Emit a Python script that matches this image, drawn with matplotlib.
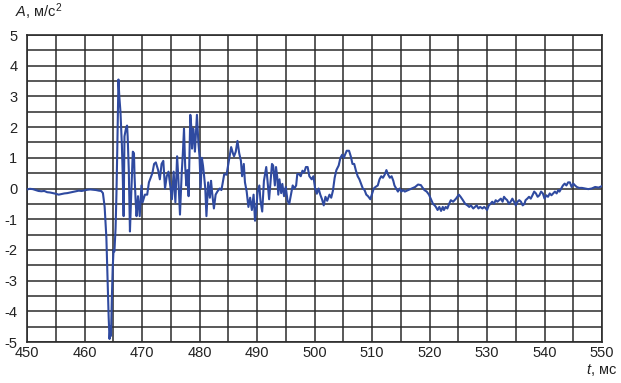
import matplotlib
matplotlib.use("Agg")
import matplotlib.pyplot as plt
from matplotlib.ticker import MultipleLocator

plt.rcParams['font.family'] = ['Liberation Sans', 'DejaVu Sans']
plt.rcParams['axes.unicode_minus'] = False
plt.rcParams['mathtext.fontset'] = 'custom'
plt.rcParams['mathtext.rm'] = 'Liberation Sans'
plt.rcParams['mathtext.it'] = 'Liberation Sans:italic'

t_ms = [450.0, 450.5, 451.0, 451.5, 452.0, 452.5, 453.0, 453.5, 454.0, 454.5,
        455.0, 455.5, 456.0, 456.5, 457.0, 457.5, 458.0, 458.5, 459.0, 459.5,
        460.0, 460.5, 461.0, 461.5, 462.0, 462.5, 462.9, 463.2, 463.5, 463.8,
        464.0, 464.2, 464.35, 464.5, 464.6, 464.75, 464.9, 465.05, 465.2, 465.4,
        465.55, 465.7, 465.8, 465.9, 466.05, 466.25, 466.5, 466.65, 466.8, 466.95,
        467.25, 467.4, 467.5, 467.7, 467.9, 468.1, 468.4, 468.6, 468.7, 468.9,
        469.05, 469.3, 469.6, 469.9, 470.1, 470.5, 470.9, 471.2, 471.5, 471.8,
        472.1, 472.4, 472.8, 473.1, 473.4, 473.7, 474.0, 474.3, 474.6, 474.9,
        475.2, 475.5, 475.8, 476.1, 476.3, 476.6, 476.9, 477.1, 477.3, 477.5,
        477.7, 477.9, 478.1, 478.4, 478.55, 478.7, 478.9, 479.05, 479.2, 479.4,
        479.55, 479.8, 480.0, 480.2, 480.4, 480.6, 480.8, 481.0, 481.2, 481.5,
        481.8, 482.0, 482.2, 482.5, 482.8, 483.1, 483.5, 483.8, 484.0, 484.3,
        484.7, 485.1, 485.5, 485.8, 486.0, 486.3, 486.6, 486.9, 487.2, 487.4,
        487.7, 487.9, 488.2, 488.5, 488.8, 489.1, 489.4, 489.65, 489.9, 490.1,
        490.4, 490.6, 490.9, 491.2, 491.6, 491.8, 492.1, 492.3, 492.6, 492.8,
        493.1, 493.3, 493.5, 493.7, 493.9, 494.2, 494.4, 494.7, 495.0, 495.3,
        495.6, 495.9, 496.2, 496.5, 496.8, 497.0, 497.3, 497.6, 497.9, 498.2,
        498.5, 498.8, 499.1, 499.5, 499.8, 500.1, 500.4, 500.7, 501.0, 501.3,
        501.6, 501.9, 502.2, 502.6, 502.9, 503.2, 503.5, 503.8, 504.2, 504.5,
        504.8, 505.1, 505.3, 505.6, 506.0, 506.3, 506.6, 506.9, 507.2, 507.5,
        507.8, 508.1, 508.4, 508.7, 509.0, 509.3, 509.7, 510.0, 510.3, 510.6,
        511.0, 511.3, 511.6, 511.9, 512.2, 512.5, 512.8, 513.1, 513.4, 513.7,
        513.9, 514.2, 514.5, 514.8, 515.1, 515.4, 515.7, 516.3, 516.9, 517.5,
        518.0, 518.5, 518.7, 519.1, 519.5, 519.9, 520.2, 520.6, 520.9, 521.1,
        521.4, 521.7, 522.0, 522.3, 522.5, 522.8, 523.1, 523.4, 523.7, 524.1,
        524.6, 525.1, 525.4, 525.8, 526.2, 526.6, 526.9, 527.2, 527.6, 527.9,
        528.2, 528.5, 528.8, 529.2, 529.5, 529.8, 530.0, 530.3, 530.6, 530.9,
        531.2, 531.5, 531.8, 532.1, 532.4, 532.7, 532.95, 533.2, 533.5, 533.8,
        534.1, 534.4, 534.7, 535.0, 535.3, 535.6, 535.9, 536.2, 536.5, 536.7,
        537.0, 537.3, 537.6, 537.9, 538.2, 538.5, 538.8, 539.1, 539.4, 539.7,
        540.0, 540.3, 540.6, 540.9, 541.2, 541.5, 541.8, 542.1, 542.4, 542.6,
        542.9, 543.2, 543.5, 543.8, 544.1, 544.4, 544.7, 545.0, 545.3, 545.6,
        546.0, 546.5, 547.1, 547.6, 548.2, 548.8, 549.4, 550.0]

accel = [-0.03, -0.01, -0.02, -0.05, -0.08, -0.09, -0.08, -0.12, -0.13, -0.15,
         -0.17, -0.2, -0.18, -0.16, -0.15, -0.13, -0.11, -0.09, -0.07, -0.08,
         -0.06, -0.04, -0.03, -0.04, -0.05, -0.07, -0.08, -0.15, -0.6, -1.6,
         -2.9, -4.2, -4.9, -4.5, -4.8, -3.6, -2.6, -2.0, -2.05, -1.3,
         -0.2, 1.3, 2.5, 3.55, 3.0, 2.5, 1.4, 0.4, -0.9, 1.7,
         2.0, 2.05, 1.7, 0.6, -1.4, -0.3, 1.2, 1.15, 0.4, -0.45,
         -0.9, -0.25, -0.9, 0.1, -0.45, -0.2, -0.2, 0.2, 0.35, 0.5,
         0.8, 0.85, 0.6, 0.3, 0.8, 0.9, 0.0, 0.4, 0.55, 0.1,
         -0.35, 0.55, -0.45, 1.05, 0.4, -0.85, 0.5, 1.15, 1.95, 0.75,
         0.1, 0.6, -0.25, 2.4, 2.05, 1.3, 1.95, 1.7, 1.2, 1.9,
         2.4, 1.5, 1.05, 0.0, 1.0, 0.75, 0.4, 0.0, -0.9, 0.2,
         -0.3, 0.25, -0.15, -0.65, -0.2, -0.1, 0.0, -0.05, 0.15, 0.47,
         0.45, 0.9, 1.35, 1.15, 1.05, 1.2, 1.55, 1.15, 0.9, 0.4,
         0.8, 0.2, -0.1, -0.6, -0.3, -0.7, -0.2, -1.05, -0.6, -0.1,
         0.1, -0.4, -0.75, 0.25, 0.7, 0.3, -0.35, 0.1, 0.8, 0.75,
         0.1, 0.7, 0.4, -0.2, 0.3, -0.15, 0.15, -0.25, 0.05, -0.4,
         -0.5, -0.2, 0.1, 0.0, 0.1, 0.47, 0.47, 0.4, 0.58, 0.52,
         0.7, 0.7, 0.4, 0.3, 0.4, 0.0, -0.17, 0.0, -0.2, -0.35,
         -0.55, -0.27, -0.4, -0.2, -0.3, -0.07, 0.35, 0.6, 0.75, 1.0,
         1.1, 1.0, 1.1, 1.23, 1.23, 1.05, 0.8, 0.8, 0.58, 0.4,
         0.3, 0.15, 0.0, -0.05, -0.2, -0.25, -0.35, -0.17, 0.0, 0.05,
         0.1, 0.3, 0.4, 0.35, 0.45, 0.6, 0.45, 0.35, 0.4, 0.25,
         0.1, 0.0, -0.1, 0.0, -0.1, -0.05, -0.1, -0.05, 0.0, 0.05,
         0.13, 0.11, 0.05, -0.05, -0.1, -0.2, -0.33, -0.5, -0.55, -0.6,
         -0.7, -0.6, -0.73, -0.6, -0.7, -0.6, -0.65, -0.5, -0.38, -0.43,
         -0.33, -0.2, -0.27, -0.38, -0.5, -0.55, -0.6, -0.55, -0.65, -0.6,
         -0.55, -0.65, -0.6, -0.65, -0.6, -0.65, -0.7, -0.55, -0.5, -0.43,
         -0.5, -0.38, -0.43, -0.38, -0.33, -0.43, -0.27, -0.33, -0.38, -0.5,
         -0.43, -0.33, -0.43, -0.55, -0.43, -0.38, -0.43, -0.55, -0.5, -0.38,
         -0.33, -0.27, -0.33, -0.22, -0.1, -0.16, -0.27, -0.22, -0.1, -0.16,
         -0.33, -0.22, -0.27, -0.16, -0.22, -0.16, -0.1, -0.16, -0.05, -0.1,
         0.0, 0.1, 0.16, 0.1, 0.2, 0.2, 0.05, 0.16, 0.1, 0.05,
         0.02, 0.02, 0.0, -0.02, 0.0, 0.05, 0.03, 0.08]

x_ticks = [450, 460, 470, 480, 490, 500, 510, 520, 530, 540, 550]
y_ticks = [-5, -4, -3, -2, -1, 0, 1, 2, 3, 4, 5]

fig = plt.figure(figsize=(6.21, 3.83), dpi=100)
ax = fig.add_axes([0.0435, 0.107, 0.926, 0.8016])

grid_color = '#2b2b2b'
ax.plot(t_ms, accel, color='#2f4aa0', lw=1.5, zorder=3)

ax.set_xlim(450, 550)
ax.set_ylim(-5, 5)
ax.set_xticks(x_ticks)
ax.set_yticks(y_ticks)
ax.xaxis.set_minor_locator(MultipleLocator(5))
ax.yaxis.set_minor_locator(MultipleLocator(0.5))
ax.grid(which='both', color=grid_color, lw=1.1)
ax.set_axisbelow(True)
for s in ax.spines.values():
    s.set_color(grid_color)
    s.set_linewidth(1.2)
ax.tick_params(which='both', length=0)
ax.tick_params(axis='y', pad=7, labelsize=10.5, colors='#222222')
ax.tick_params(axis='x', pad=3, labelsize=10.5, colors='#222222')

fig.text(15 / 621, 1 - 12 / 383, r'$\mathit{A}$, м/с$^2$', fontsize=10.5,
         ha='left', va='center', color='#222222')
fig.text(617 / 621, 1 - 370 / 383, r'$\mathit{t}$, мс', fontsize=10.5,
         ha='right', va='center', color='#222222')

fig.savefig('out.png', dpi=100)
